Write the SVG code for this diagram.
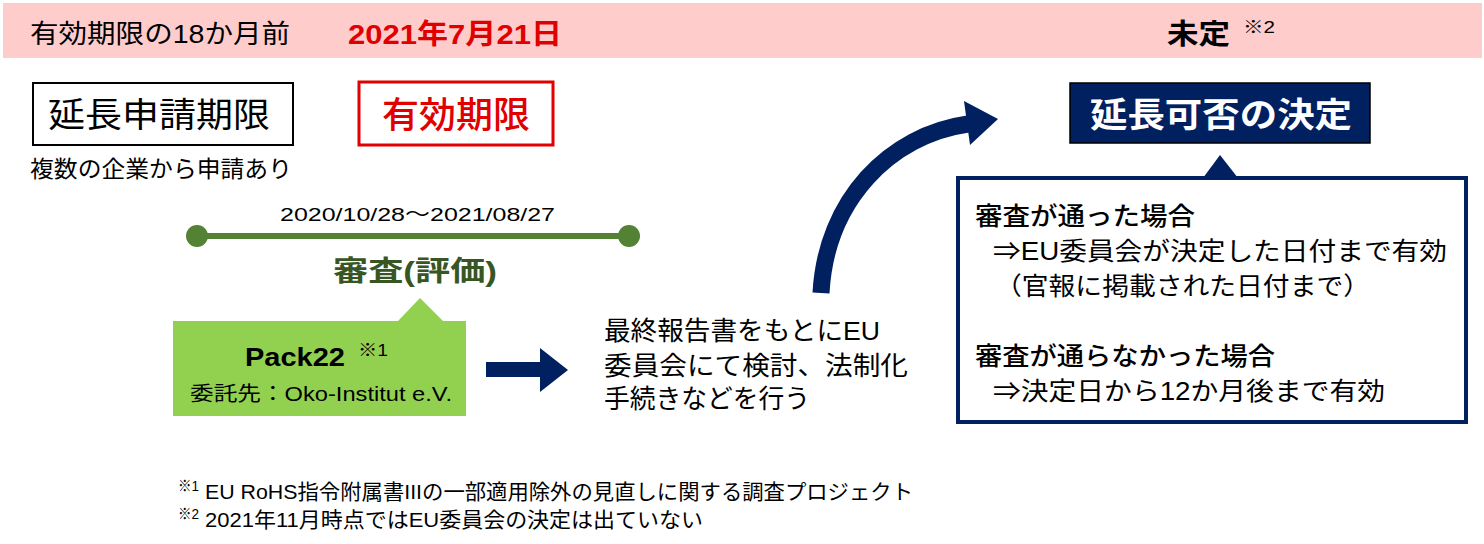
<svg xmlns="http://www.w3.org/2000/svg" width="1484" height="544" viewBox="0 0 1484 544">
  <defs>
    <style>
      text { font-family: 'Liberation Sans', 'Noto Sans CJK JP', sans-serif; fill: #000; }
      .b { font-weight: bold; }
      .red { fill: #E00000; }
      .navy { fill: #002060; }
      .line { lengthAdjust: spacingAndGlyphs; }
    </style>
  </defs>
  <rect width="1484" height="544" fill="#fff"/>

  <g id="band">
    <rect x="3" y="3" width="1479" height="55" fill="#FFCCCC"/>
    <text x="30" y="43" font-size="26" textLength="260" lengthAdjust="spacingAndGlyphs">有効期限の18か月前</text>
    <text x="348" y="44" font-size="28" class="b red" textLength="214" lengthAdjust="spacingAndGlyphs">2021年7月21日</text>
    <text x="1167" y="44" font-size="28" class="b" textLength="63" lengthAdjust="spacingAndGlyphs">未定</text>
    <text x="1243" y="33" font-size="17" textLength="32" lengthAdjust="spacingAndGlyphs">※2</text>
  </g>

  <g id="deadline-app">
    <rect x="33" y="83" width="260" height="62" fill="#fff" stroke="#000" stroke-width="2"/>
    <text x="48" y="127" font-size="34" textLength="222" lengthAdjust="spacingAndGlyphs">延長申請期限</text>
    <text x="30" y="177" font-size="23" textLength="262" lengthAdjust="spacingAndGlyphs">複数の企業から申請あり</text>
  </g>

  <g id="expiry">
    <rect x="359" y="82" width="194" height="63" fill="#fff" stroke="#E00000" stroke-width="3"/>
    <text x="382" y="128" font-size="36" class="red" font-weight="500" textLength="148" lengthAdjust="spacingAndGlyphs">有効期限</text>
  </g>

  <g id="review">
    <text x="280" y="221" font-size="19" textLength="275" lengthAdjust="spacingAndGlyphs">2020/10/28～2021/08/27</text>
    <line x1="197" y1="236" x2="629" y2="236" stroke="#548235" stroke-width="6"/>
    <circle cx="197" cy="236" r="11" fill="#548235"/>
    <circle cx="629" cy="236" r="11" fill="#548235"/>
    <text x="333" y="281" font-size="28" class="b" style="fill:#375623" textLength="164" lengthAdjust="spacingAndGlyphs">審査(評価)</text>
  </g>

  <g id="pack22">
    <path d="M173 321 H398 L420 298 L443 321 H466 V416 H173 Z" fill="#92D050"/>
    <text x="245" y="366" font-size="26" class="b" textLength="100" lengthAdjust="spacingAndGlyphs">Pack22</text>
    <text x="358" y="356" font-size="17" textLength="30" lengthAdjust="spacingAndGlyphs">※1</text>
    <text x="190" y="401" font-size="20" textLength="262" lengthAdjust="spacingAndGlyphs">委託先：Oko-Institut e.V.</text>
  </g>

  <g id="commission">
    <text x="604" y="340" font-size="26" textLength="276" lengthAdjust="spacingAndGlyphs">最終報告書をもとにEU</text>
    <text x="604" y="375" font-size="26" textLength="304" lengthAdjust="spacingAndGlyphs">委員会にて検討、法制化</text>
    <text x="604" y="408" font-size="26" textLength="206" lengthAdjust="spacingAndGlyphs">手続きなどを行う</text>
  </g>

  <g id="decision">
    <rect x="1070" y="83" width="300" height="60" fill="#002060" stroke="#000" stroke-width="1.5"/>
    <text x="1090" y="127" font-size="34" class="b" style="fill:#fff" textLength="262" lengthAdjust="spacingAndGlyphs">延長可否の決定</text>
  </g>

  <g id="outcome">
    <rect x="958" y="178" width="508" height="244" fill="#fff" stroke="#002060" stroke-width="4"/>
    <polygon points="1203,178 1220,155 1238,178" fill="#002060"/>
    <text x="975" y="225" font-size="25" font-weight="500" textLength="220" lengthAdjust="spacingAndGlyphs">審査が通った場合</text>
    <text x="993" y="260" font-size="25" textLength="454" lengthAdjust="spacingAndGlyphs">⇒EU委員会が決定した日付まで有効</text>
    <text x="995" y="295" font-size="25" textLength="375" lengthAdjust="spacingAndGlyphs">（官報に掲載された日付まで）</text>
    <text x="975" y="365" font-size="25" font-weight="500" textLength="300" lengthAdjust="spacingAndGlyphs">審査が通らなかった場合</text>
    <text x="993" y="400" font-size="25" textLength="392" lengthAdjust="spacingAndGlyphs">⇒決定日から12か月後まで有効</text>
  </g>

  <g id="connectors">
    <polygon points="486,362 540,362 540,348 568,370 540,392 540,377 486,377" fill="#002060"/>
    <path d="M821 293 C826 200 890 135 968 124" fill="none" stroke="#002060" stroke-width="17"/>
    <polygon points="964,101 998,119 970,145" fill="#002060"/>
  </g>

  <g id="footnotes">
    <text x="178" y="491" font-size="15" textLength="21" lengthAdjust="spacingAndGlyphs">※1</text>
    <text x="205" y="499" font-size="21" textLength="708" lengthAdjust="spacingAndGlyphs">EU RoHS指令附属書IIIの一部適用除外の見直しに関する調査プロジェクト</text>
    <text x="178" y="519" font-size="15" textLength="21" lengthAdjust="spacingAndGlyphs">※2</text>
    <text x="205" y="527" font-size="21" textLength="498" lengthAdjust="spacingAndGlyphs">2021年11月時点ではEU委員会の決定は出ていない</text>
  </g>
</svg>
